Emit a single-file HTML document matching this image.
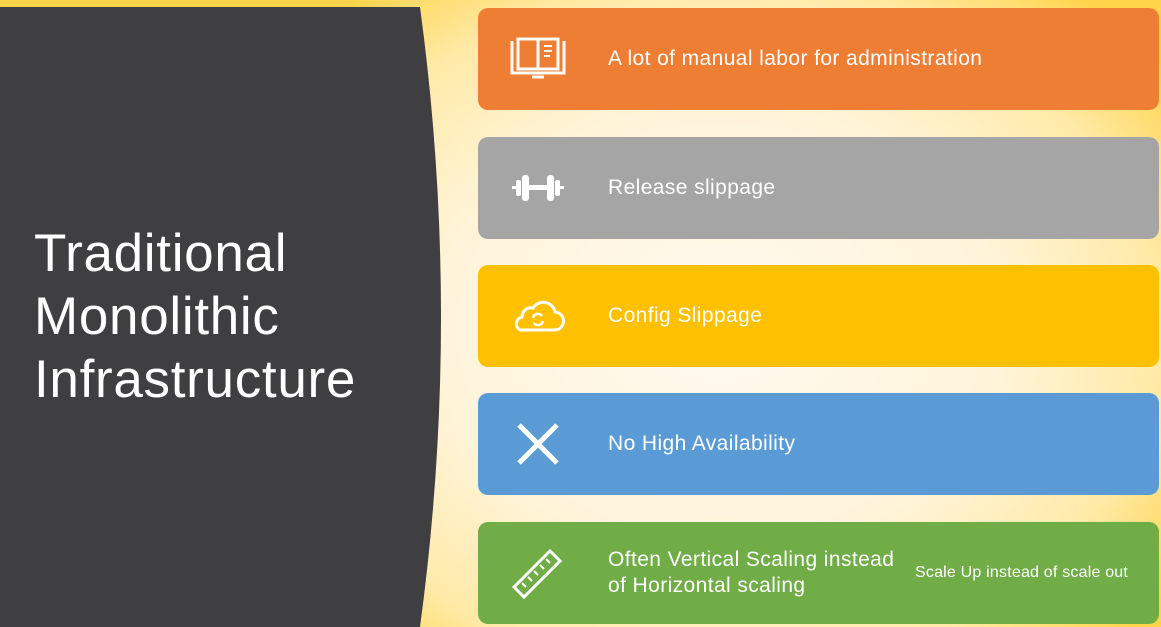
<!DOCTYPE html>
<html><head><meta charset="utf-8"><style>
*{margin:0;padding:0;box-sizing:border-box}
body{width:1161px;height:627px;overflow:hidden;position:relative;font-family:"Liberation Sans",sans-serif;
background:radial-gradient(ellipse 560px 440px at 720px 330px,#fffaf0 0%,#fff4da 50%,#ffeaa8 78%,#ffd44a 100%);}
.bx{position:absolute;left:478px;width:681px;height:102px;border-radius:10px;color:#fff;}
.bx .t{position:absolute;left:130px;top:50%;transform:translateY(-50%);font-size:21px;line-height:26px;letter-spacing:0.4px}
.bx svg{position:absolute;left:30px;top:50%;transform:translateY(-50%)}
h1{position:absolute;left:34px;top:222px;color:#fff;font-weight:300;font-size:53px;line-height:63px;letter-spacing:0.7px}
</style></head><body>
<svg style="position:absolute;left:0;top:0" width="460" height="627"><path d="M0 7 L420 7 Q462 317 420 627 L0 627 Z" fill="#3f3e40"/></svg>
<h1>Traditional<br>Monolithic<br>Infrastructure</h1>

<div class="bx" style="top:8px;background:#ef7e35">
<svg width="60" height="44" viewBox="0 0 60 44" fill="none" stroke="#fff" stroke-width="3"><path d="M4 4v32h52V4"/><rect x="10" y="2" width="40" height="30"/><path d="M30 2v30"/><path d="M36 9h8M36 14h8M36 19h6" stroke-width="2"/><path d="M24 40h12"/></svg>
<div class="t">A lot of manual labor for administration</div></div>

<div class="bx" style="top:137px;background:#a5a5a5">
<svg width="60" height="40" viewBox="0 0 60 40" fill="#fff"><rect x="14" y="7" width="7" height="26" rx="3"/><rect x="39" y="7" width="7" height="26" rx="3"/><rect x="8" y="12" width="5" height="16" rx="2"/><rect x="47" y="12" width="5" height="16" rx="2"/><rect x="20" y="17" width="20" height="5"/><rect x="4" y="18" width="4" height="3"/><rect x="52" y="18" width="4" height="3"/></svg>
<div class="t">Release slippage</div></div>

<div class="bx" style="top:265px;background:#ffc000">
<svg width="60" height="40" viewBox="0 0 60 40" fill="none" stroke="#fff" stroke-width="3"><path d="M12 34h34a9 9 0 0 0 1-18 12 12 0 0 0-22-4 9 9 0 0 0-11 9 7 7 0 0 0-2 13z"/><path d="M25 22a5 5 0 0 1 9-2M35 25a5 5 0 0 1-9 2" stroke-width="2.5"/></svg>
<div class="t">Config Slippage</div></div>

<div class="bx" style="top:393px;background:#5b9bd5">
<svg width="60" height="44" viewBox="0 0 60 44" stroke="#fff" stroke-width="5"><path d="M11 3l38 38M49 3L11 41"/></svg>
<div class="t">No High Availability</div></div>

<div class="bx" style="top:522px;background:#70ad47">
<svg width="60" height="56" viewBox="0 0 60 56" fill="none" stroke="#fff" stroke-width="3"><path d="M6 42L42 6l10 10L16 52z"/><path d="M14 38l4 4M20 32l4 4M26 26l4 4M32 20l4 4M38 14l4 4" stroke-width="2"/></svg>
<div class="t">Often Vertical Scaling instead<br>of Horizontal scaling</div>
<div style="position:absolute;left:437px;top:42px;font-size:16px;letter-spacing:0.2px">Scale Up instead of scale out</div></div>
</body></html>
